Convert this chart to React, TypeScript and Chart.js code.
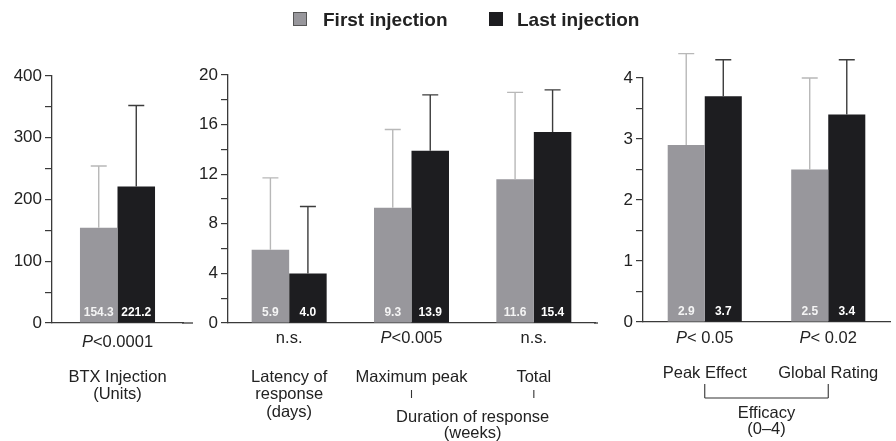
import React, { useEffect, useRef } from 'react';
import { Chart, registerables } from 'chart.js';

Chart.register(...registerables);

const FONT = '"Liberation Sans", Arial, Helvetica, sans-serif';
const GRAY = '#98979c';
const BLACK = '#1d1d20';
const AXIS = '#3a3a3a';
const TEXT = '#222222';
const ERR_GRAY = '#b8b8b8';
const ERR_BLACK = '#3c3c3c';
const FS = 16.5;

const seriesNames = ['First injection', 'Last injection'];

// Panel 1: BTX injection (units)
const btxCategories = [['BTX Injection', '(Units)']];
const btxFirst = [154.3];
const btxLast = [221.2];
const btxFirstSD = [100];
const btxLastSD = [131];
const btxP = ['P<0.0001'];

// Panel 2: latency / duration of response
const timeCategories = [['Latency of', 'response', '(days)'], ['Maximum peak'], ['Total']];
const timeFirst = [5.9, 9.3, 11.6];
const timeLast = [4.0, 13.9, 15.4];
const timeFirstSD = [5.8, 6.3, 7.0];
const timeLastSD = [5.4, 4.5, 3.4];
const timeP = ['n.s.', 'P<0.005', 'n.s.'];
const timeGroup = ['Duration of response', '(weeks)'];

// Panel 3: efficacy (0-4)
const effCategories = [['Peak Effect'], ['Global Rating']];
const effFirst = [2.9, 2.5];
const effLast = [3.7, 3.4];
const effFirstSD = [1.5, 1.5];
const effLastSD = [0.6, 0.9];
const effP = ['P< 0.05', 'P< 0.02'];
const effGroup = ['Efficacy', '(0\u20134)'];

type PanelCfg = {
  left: number;
  width: number;
  yAxisWidth: number;
  top: number;
  bottom: number;
  padRight: number;
  catPct: number;
  categories: string[][];
  first: number[];
  last: number[];
  firstSD: number[];
  lastSD: number[];
  yMax: number;
  step: number;
  labelEvery: number;
  pValues: string[];
  pY: number;
  labelY: number;
  extendAxis: number;
  group?: { from: number; to: number; lines: string[]; bracket: boolean; lineTop: number; lineBottom: number; textY: number };
};

const H = 441;
const LINE_H = 17.5;

const panels: PanelCfg[] = [
  {
    left: 0, width: 200, yAxisWidth: 52, top: 76, bottom: 323, padRight: 17, catPct: 0.573,
    categories: btxCategories, first: btxFirst, last: btxLast, firstSD: btxFirstSD, lastSD: btxLastSD,
    yMax: 400, step: 50, labelEvery: 100, pValues: btxP, pY: 342, labelY: 377, extendAxis: 10,
  },
  {
    left: 195, width: 405, yAxisWidth: 33, top: 75, bottom: 323, padRight: 5, catPct: 0.613,
    categories: timeCategories, first: timeFirst, last: timeLast, firstSD: timeFirstSD, lastSD: timeLastSD,
    yMax: 20, step: 2, labelEvery: 4, pValues: timeP, pY: 338, labelY: 377, extendAxis: 3,
    group: { from: 1, to: 2, lines: timeGroup, bracket: false, lineTop: 390, lineBottom: 398, textY: 417 },
  },
  {
    left: 600, width: 296, yAxisWidth: 43, top: 78, bottom: 322, padRight: 6, catPct: 0.6,
    categories: effCategories, first: effFirst, last: effLast, firstSD: effFirstSD, lastSD: effLastSD,
    yMax: 4, step: 0.5, labelEvery: 1, pValues: effP, pY: 338, labelY: 373, extendAxis: 0,
    group: { from: 0, to: 1, lines: effGroup, bracket: true, lineTop: 384, lineBottom: 398, textY: 413 },
  },
];

function drawPValue(ctx: CanvasRenderingContext2D, text: string, cx: number, cy: number) {
  ctx.textBaseline = 'middle';
  ctx.textAlign = 'left';
  ctx.fillStyle = TEXT;
  if (text.startsWith('P')) {
    const rest = text.slice(1);
    ctx.font = `italic ${FS}px ${FONT}`;
    const w1 = ctx.measureText('P').width;
    ctx.font = `${FS}px ${FONT}`;
    const w2 = ctx.measureText(rest).width;
    const x0 = cx - (w1 + w2) / 2;
    ctx.font = `italic ${FS}px ${FONT}`;
    ctx.fillText('P', x0, cy);
    ctx.font = `${FS}px ${FONT}`;
    ctx.fillText(rest, x0 + w1, cy);
  } else {
    ctx.font = `${FS}px ${FONT}`;
    ctx.textAlign = 'center';
    ctx.fillText(text, cx, cy);
  }
}

function Panel({ cfg }: { cfg: PanelCfg }) {
  const ref = useRef<HTMLCanvasElement | null>(null);

  useEffect(() => {
    const canvas = ref.current;
    if (!canvas) return;

    const annot = {
      id: 'annot',
      afterDatasetsDraw(chart: any) {
        const ctx = chart.ctx as CanvasRenderingContext2D;
        const ys = chart.scales.y;
        const base = ys.getPixelForValue(0);
        chart.data.datasets.forEach((ds: any, i: number) => {
          const meta = chart.getDatasetMeta(i);
          meta.data.forEach((bar: any, j: number) => {
            const v = ds.data[j] as number;
            const sd = ds.sd[j] as number;
            const top = ys.getPixelForValue(v + sd);
            ctx.save();
            ctx.strokeStyle = ds.errColor;
            ctx.lineWidth = 1.4;
            ctx.beginPath();
            ctx.moveTo(bar.x, bar.y);
            ctx.lineTo(bar.x, top);
            ctx.moveTo(bar.x - 8, top);
            ctx.lineTo(bar.x + 8, top);
            ctx.stroke();
            ctx.fillStyle = ds.valueColor;
            ctx.font = `bold 12px ${FONT}`;
            ctx.textAlign = 'center';
            ctx.textBaseline = 'middle';
            ctx.fillText(v.toFixed(1), bar.x, base - 10);
            ctx.restore();
          });
        });
      },
      afterDraw(chart: any) {
        const ctx = chart.ctx as CanvasRenderingContext2D;
        const xs = chart.scales.x;
        const area = chart.chartArea;
        ctx.save();
        if (cfg.extendAxis > 0) {
          ctx.strokeStyle = AXIS;
          ctx.lineWidth = 1.3;
          ctx.beginPath();
          ctx.moveTo(area.right - 1, area.bottom);
          ctx.lineTo(area.right + cfg.extendAxis, area.bottom);
          ctx.stroke();
        }
        cfg.categories.forEach((lines, j) => {
          const cx = xs.getPixelForValue(j);
          drawPValue(ctx, cfg.pValues[j], cx, cfg.pY);
          ctx.font = `${FS}px ${FONT}`;
          ctx.fillStyle = TEXT;
          ctx.textAlign = 'center';
          ctx.textBaseline = 'middle';
          lines.forEach((ln, k) => ctx.fillText(ln, cx, cfg.labelY + k * LINE_H));
        });
        const g = cfg.group;
        if (g) {
          const x1 = xs.getPixelForValue(g.from);
          const x2 = xs.getPixelForValue(g.to);
          ctx.strokeStyle = '#333';
          ctx.lineWidth = 1.1;
          ctx.beginPath();
          ctx.moveTo(x1, g.lineTop);
          ctx.lineTo(x1, g.lineBottom);
          ctx.moveTo(x2, g.lineTop);
          ctx.lineTo(x2, g.lineBottom);
          if (g.bracket) {
            ctx.moveTo(x1, g.lineBottom);
            ctx.lineTo(x2, g.lineBottom);
          }
          ctx.stroke();
          ctx.font = `${FS}px ${FONT}`;
          ctx.fillStyle = TEXT;
          ctx.textAlign = 'center';
          ctx.textBaseline = 'middle';
          g.lines.forEach((ln, k) => ctx.fillText(ln, (x1 + x2) / 2, g.textY + k * LINE_H - (k > 0 ? 1 : 0)));
        }
        ctx.restore();
      },
    };

    const chart = new Chart(canvas, {
      type: 'bar',
      data: {
        labels: cfg.categories.map((c) => c.join(' ')),
        datasets: [
          {
            label: seriesNames[0],
            data: cfg.first,
            backgroundColor: GRAY,
            borderWidth: 0,
            sd: cfg.firstSD,
            errColor: ERR_GRAY,
            valueColor: '#f4f4f4',
          } as any,
          {
            label: seriesNames[1],
            data: cfg.last,
            backgroundColor: BLACK,
            borderWidth: 0,
            sd: cfg.lastSD,
            errColor: ERR_BLACK,
            valueColor: '#ffffff',
          } as any,
        ],
      },
      options: {
        responsive: false,
        maintainAspectRatio: false,
        animation: false,
        events: [],
        layout: { padding: { left: 0, right: cfg.padRight, top: cfg.top, bottom: H - cfg.bottom } },
        datasets: { bar: { barPercentage: 1, categoryPercentage: cfg.catPct } },
        plugins: { legend: { display: false }, tooltip: { enabled: false } },
        scales: {
          x: {
            type: 'category',
            offset: true,
            grid: { display: false, drawTicks: false },
            ticks: { display: false },
            border: { display: true, color: AXIS, width: 1.3 },
            afterFit: (s: any) => { s.height = 0; },
          },
          y: {
            min: 0,
            max: cfg.yMax,
            ticks: {
              stepSize: cfg.step,
              autoSkip: false,
              padding: 3,
              color: TEXT,
              font: { family: FONT, size: 17 },
              callback: (v: any) => {
                const n = Number(v);
                return Math.abs(n / cfg.labelEvery - Math.round(n / cfg.labelEvery)) < 1e-6 ? String(n) : '';
              },
            },
            grid: { display: true, drawOnChartArea: false, drawTicks: true, tickLength: 7, color: AXIS, lineWidth: 1.2 },
            border: { display: true, color: AXIS, width: 1.3 },
            afterFit: (s: any) => { s.width = cfg.yAxisWidth; },
          },
        },
      } as any,
      plugins: [annot],
    });

    return () => chart.destroy();
  }, [cfg]);

  return (
    <canvas
      ref={ref}
      width={cfg.width}
      height={H}
      style={{ position: 'absolute', left: cfg.left, top: 0, width: cfg.width, height: H, display: 'block' }}
    />
  );
}

const legendText: React.CSSProperties = {
  position: 'absolute',
  top: 10,
  font: `bold 19px ${FONT}`,
  lineHeight: '20px',
  color: TEXT,
  whiteSpace: 'nowrap',
};

export default function App() {
  return (
    <div style={{ position: 'absolute', left: 0, top: 0, width: 896, height: H, background: '#fff', overflow: 'hidden' }}>
      {panels.map((p, i) => (
        <Panel key={i} cfg={p} />
      ))}
      <div style={{ position: 'absolute', left: 293, top: 12, width: 12, height: 12, background: GRAY, border: '1px solid #555' }} />
      <span style={{ ...legendText, left: 323 }}>{seriesNames[0]}</span>
      <div style={{ position: 'absolute', left: 489, top: 12, width: 14, height: 14, background: BLACK }} />
      <span style={{ ...legendText, left: 517 }}>{seriesNames[1]}</span>
    </div>
  );
}
